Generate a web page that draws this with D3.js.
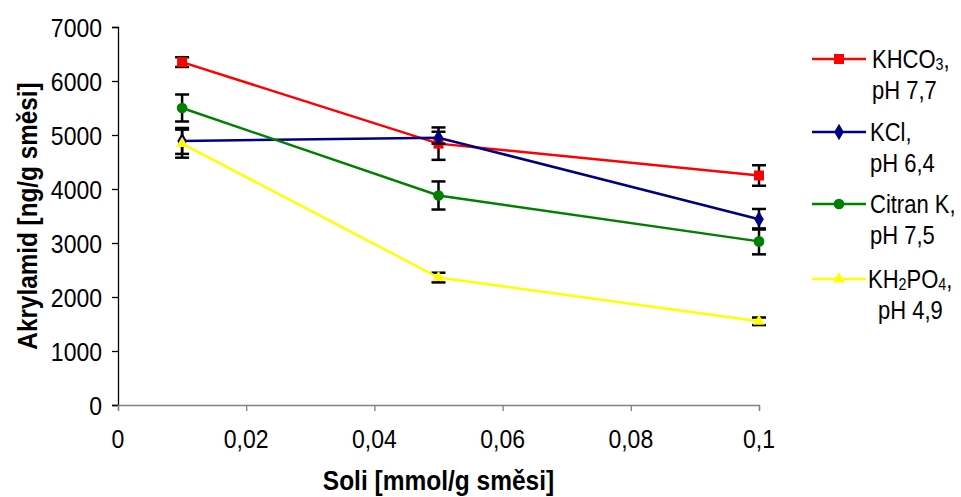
<!DOCTYPE html>
<html><head><meta charset="utf-8">
<script src="https://cdn.jsdelivr.net/npm/d3@7"></script>
<style>body{margin:0;background:#fff}svg{display:block}text{font-family:"Liberation Sans",Arial,sans-serif;fill:#000}</style>
</head><body><svg id="c" width="961" height="497"></svg>
<script>
const xValues = [0.01, 0.05, 0.1];
const seriesNames = ["KHCO_3,", "KCl,", "Citran K,", "KH_2PO_4,"];
const seriesPH = ["pH 7,7", "pH 6,4", "pH 7,5", "pH 4,9"];
const khco3 = [6350, 4840, 4250];
const khco3Err = [90, 300, 190];
const kcl = [4890, 4950, 3440];
const kclErr = [240, 110, 190];
const citran = [5500, 3880, 3030];
const citranErr = [250, 260, 240];
const kh2po4 = [4840, 2360, 1550];
const kh2po4Err = [260, 90, 70];
const xTicks = [0, 0.02, 0.04, 0.06, 0.08, 0.1];
const xTickLabels = ["0", "0,02", "0,04", "0,06", "0,08", "0,1"];
const yTicks = [0, 1000, 2000, 3000, 4000, 5000, 6000, 7000];
const xTitle = "Soli [mmol/g směsi]";
const yTitle = "Akrylamid [ng/g směsi]";

const colors = ["#FF0000", "#000080", "#008000", "#FFFF00"];
const shapes = [d3.symbolSquare, d3.symbolDiamond, d3.symbolCircle, d3.symbolTriangle];
const sizes = [100, 80, 90, 60];
const values = [khco3, kcl, citran, kh2po4];
const errs = [khco3Err, kclErr, citranErr, kh2po4Err];

const svg = d3.select("#c");
const x = d3.scaleLinear().domain([0, 0.1]).range([118, 759]);
const y = d3.scaleLinear().domain([0, 7000]).range([405, 27]);
const SY = 1.14;

function stext(parent, tx, ty, str, o) {
  const g = parent.append("g").attr("transform", `translate(${tx},${ty}) scale(1,${SY})`);
  const t = g.append("text").attr("dominant-baseline", "central")
    .attr("text-anchor", o.anchor || "start")
    .style("font-size", o.size + "px").style("font-weight", o.weight || "normal");
  if (o.rotate) g.attr("transform", `translate(${tx},${ty}) rotate(-90) scale(1,${SY})`);
  const parts = str.split(/(_\d)/);
  let pending = 0;
  parts.forEach(p => {
    if (!p) return;
    if (p[0] === "_") {
      t.append("tspan").attr("dy", 4 + pending).style("font-size", (o.size * 0.65) + "px").text(p.slice(1));
      pending = -4;
    } else {
      const ts = t.append("tspan").text(p);
      if (pending) ts.attr("dy", pending);
      pending = 0;
    }
  });
  return g;
}

// axes
const ya = svg.append("g").attr("transform", "translate(118,0)")
  .call(d3.axisLeft(y).tickValues(yTicks).tickSize(6).tickFormat(""));
ya.select(".domain").attr("stroke", "#000").attr("stroke-width", 1.3);
ya.selectAll(".tick line").attr("stroke", "#000").attr("stroke-width", 1.3);
const xa = svg.append("g").attr("transform", "translate(0,405)")
  .call(d3.axisBottom(x).tickValues(xTicks).tickSize(6).tickFormat(""));
xa.select(".domain").attr("stroke", "#808080").attr("stroke-width", 1.3);
xa.selectAll(".tick line").attr("stroke", "#808080").attr("stroke-width", 1.3);

yTicks.forEach(v => stext(svg, 102, y(v), String(v), {size: 23, anchor: "end"}));
xTicks.forEach((v, i) => stext(svg, x(v), 438, xTickLabels[i], {size: 23, anchor: "middle"}));
stext(svg, x(0.05), 480, xTitle, {size: 24.5, anchor: "middle", weight: "bold"});
stext(svg, 27, y(3500), yTitle, {size: 24.3, anchor: "middle", weight: "bold", rotate: true});

// series
const line = d3.line().x((d, i) => x(xValues[i])).y(d => y(d));
values.forEach((vals, s) => {
  const g = svg.append("g");
  vals.forEach((v, i) => {
    const cx = x(xValues[i]), e = errs[s][i];
    g.append("line").attr("x1", cx).attr("x2", cx).attr("y1", y(v - e)).attr("y2", y(v + e))
      .attr("stroke", "#000").attr("stroke-width", 2.5);
    [v - e, v + e].forEach(w => g.append("line").attr("x1", cx - 7).attr("x2", cx + 7)
      .attr("y1", y(w)).attr("y2", y(w)).attr("stroke", "#000").attr("stroke-width", 2.5));
  });
  g.append("path").attr("d", line(vals)).attr("fill", "none").attr("stroke", colors[s]).attr("stroke-width", 2.5);
  vals.forEach((v, i) => g.append("path")
    .attr("d", d3.symbol().type(shapes[s]).size(sizes[s])())
    .attr("transform", `translate(${x(xValues[i])},${y(v)})`).attr("fill", colors[s]));
});

// legend
const legY = [59, 132, 204, 279];
const legX1 = [872, 870, 870, 868];
const legX2 = [872, 870, 870, 878];
seriesNames.forEach((n, s) => {
  const g = svg.append("g");
  g.append("line").attr("x1", 812).attr("x2", 866).attr("y1", legY[s]).attr("y2", legY[s])
    .attr("stroke", colors[s]).attr("stroke-width", 2.5);
  g.append("path").attr("d", d3.symbol().type(shapes[s]).size(sizes[s])())
    .attr("transform", `translate(839,${legY[s]})`).attr("fill", colors[s]);
  stext(svg, legX1[s], legY[s], n, {size: 22});
  stext(svg, legX2[s], legY[s] + 31, seriesPH[s], {size: 22});
});
</script></body></html>
